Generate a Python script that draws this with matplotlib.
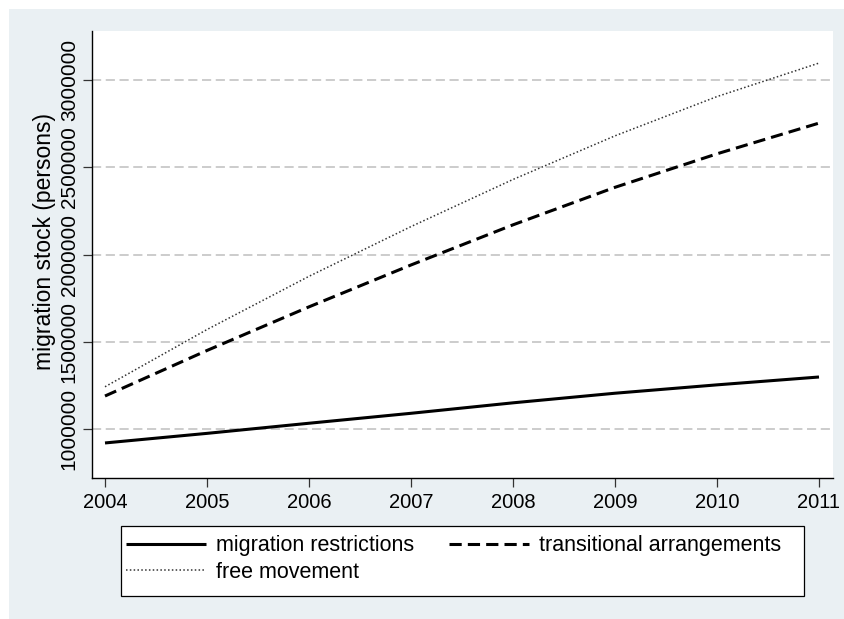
import matplotlib
matplotlib.use("Agg")
import matplotlib.pyplot as plt
from matplotlib.patches import Rectangle

# dane
years = [2004, 2005, 2006, 2007, 2008, 2009, 2010, 2011]
restrictions = [920000, 975000, 1033000, 1090000, 1150000, 1205000, 1253000, 1298000]
transitional = [1189000, 1450000, 1700000, 1940000, 2170000, 2385000, 2577000, 2753000]
free_movement = [1242000, 1570000, 1875000, 2160000, 2430000, 2680000, 2905000, 3097000]

labels = ["migration restrictions", "transitional arrangements", "free movement"]
y_ticks = [1000000, 1500000, 2000000, 2500000, 3000000]

plt.rcParams['font.family'] = ['Liberation Sans', 'DejaVu Sans']

W, H = 845, 619
fig = plt.figure(figsize=(W / 100, H / 100), dpi=100, facecolor="white")

# tlo obszaru wykresu (styl Stata)
bg = Rectangle((9 / W, 0), 1 - 9 / W, 1 - 9 / H, transform=fig.transFigure,
               facecolor="#EAF0F3", edgecolor="none", zorder=-10)
fig.add_artist(bg)

ax = fig.add_axes([92 / W, (H - 478) / H, 741 / W, 447 / H])
ax.set_facecolor("white")

for yv in y_ticks:
    ax.axhline(yv, color="#BEBEBE", lw=1.1, linestyle=(0, (6, 3)), zorder=1)

l1, = ax.plot(years, restrictions, color="black", lw=2.2, solid_capstyle="butt", zorder=3)
l2, = ax.plot(years, transitional, color="black", lw=2.2, linestyle=(0, (4, 2)), zorder=3)
l3, = ax.plot(years, free_movement, color="#333333", lw=1.1, linestyle=(0, (1, 1.5)), zorder=3)

ax.set_xlim(2004 - 13 / 102, 2011 + 14 / 102)
ax.set_ylim(719200, 3280800)
ax.set_xticks(years)
ax.set_xticklabels([str(y) for y in years], fontsize=14.5)
ax.set_yticks(y_ticks)
ax.set_yticklabels([str(v) for v in y_ticks], rotation=90, va="center", fontsize=15)

for s in ["top", "right"]:
    ax.spines[s].set_visible(False)
for s in ["left", "bottom"]:
    ax.spines[s].set_linewidth(1.0)
    ax.spines[s].set_color("black")

ax.tick_params(axis="both", length=6.5, width=0.9, color="#333333")
ax.tick_params(axis="y", pad=3)
ax.tick_params(axis="x", pad=4)

ax.set_ylabel("migration stock (persons)", fontsize=16.5)
ax.yaxis.set_label_coords(-0.049, 0.53)

# ramka legendy rysowana recznie
frame = Rectangle((121 / W, (H - 596) / H), 683 / W, 70 / H, transform=fig.transFigure,
                  facecolor="white", edgecolor="black", lw=0.9, zorder=4)
fig.add_artist(frame)

# kolejnosc: legenda wypelniana kolumnami
leg = fig.legend([l1, l3, l2], [labels[0], labels[2], labels[1]], ncol=2, loc="center left",
                 bbox_to_anchor=(126 / W, (H - 559) / H), frameon=False, fontsize=15.5,
                 handlelength=3.7, handletextpad=0.5, borderaxespad=0, borderpad=0,
                 labelspacing=0.25, columnspacing=1.6)
leg.set_zorder(5)

fig.savefig("out.png", dpi=100, facecolor=fig.get_facecolor())
